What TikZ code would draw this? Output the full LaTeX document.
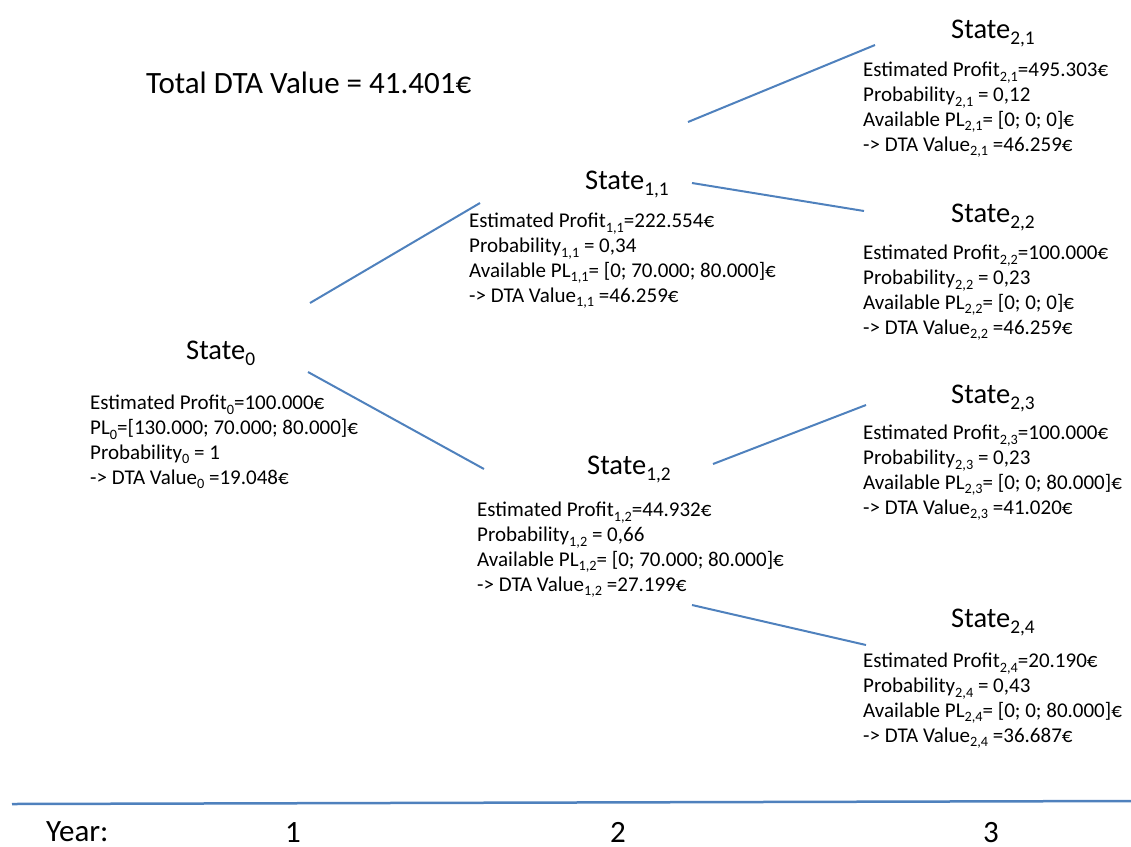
\documentclass[tikz,border=0pt]{standalone}
\usepackage{fontspec}
\setmainfont{Carlito}
\usepackage{tikz}
\definecolor{lineblue}{RGB}{79,129,189}
\tikzset{
  titlelbl/.style={anchor=base west, inner sep=0pt, font=\fontsize{31}{37}\selectfont},
  statelbl/.style={anchor=base west, inner sep=0pt, font=\fontsize{28.5}{34}\selectfont},
  infotxt/.style={anchor=base west, inner sep=0pt, align=left, font=\fontsize{21}{24.8}\selectfont},
  yearlbl/.style={anchor=base west, inner sep=0pt, font=\fontsize{31}{37}\selectfont},
  branch/.style={draw=lineblue, line width=2pt},
}
\newcommand{\sbs}[1]{\raisebox{-0.22em}{\scalebox{0.68}{#1}}}

\begin{document}
\begin{tikzpicture}[x=1pt,y=1pt,yscale=-1,xscale=1]
\useasboundingbox (0,0) rectangle (1131,846);

% Title
\node [titlelbl] (total) at (146,93) {Total DTA Value = 41.401€};

% State nodes
\node [statelbl] (s0) at (186,359) {State\sbs{0}};
\node [statelbl] (s11) at (585,189) {State\sbs{1,1}};
\node [statelbl] (s12) at (587,474) {State\sbs{1,2}};
\node [statelbl] (s21) at (951,38) {State\sbs{2,1}};
\node [statelbl] (s22) at (951,222) {State\sbs{2,2}};
\node [statelbl] (s23) at (951,403) {State\sbs{2,3}};
\node [statelbl] (s24) at (951,627) {State\sbs{2,4}};

% Text Node (base = last line)
\node [infotxt] (t0) at (90,484) {Estimated Profit\sbs{0}=100.000€\\PL\sbs{0}=[130.000; 70.000; 80.000]€\\Probability\sbs{0} = 1\\-> DTA Value\sbs{0} =19.048€};
% Text Node
\node [infotxt] (t11) at (469,302) {Estimated Profit\sbs{1,1}=222.554€\\Probability\sbs{1,1} = 0,34\\Available PL\sbs{1,1}= [0; 70.000; 80.000]€\\-> DTA Value\sbs{1,1} =46.259€};
% Text Node
\node [infotxt] (t12) at (477,591) {Estimated Profit\sbs{1,2}=44.932€\\Probability\sbs{1,2} = 0,66\\Available PL\sbs{1,2}= [0; 70.000; 80.000]€\\-> DTA Value\sbs{1,2} =27.199€};
% Text Node
\node [infotxt] (t21) at (863,151) {Estimated Profit\sbs{2,1}=495.303€\\Probability\sbs{2,1} = 0,12\\Available PL\sbs{2,1}= [0; 0; 0]€\\-> DTA Value\sbs{2,1} =46.259€};
% Text Node
\node [infotxt] (t22) at (863,334) {Estimated Profit\sbs{2,2}=100.000€\\Probability\sbs{2,2} = 0,23\\Available PL\sbs{2,2}= [0; 0; 0]€\\-> DTA Value\sbs{2,2} =46.259€};
% Text Node
\node [infotxt] (t23) at (863,514) {Estimated Profit\sbs{2,3}=100.000€\\Probability\sbs{2,3} = 0,23\\Available PL\sbs{2,3}= [0; 0; 80.000]€\\-> DTA Value\sbs{2,3} =41.020€};
% Text Node
\node [infotxt] (t24) at (863,742) {Estimated Profit\sbs{2,4}=20.190€\\Probability\sbs{2,4} = 0,43\\Available PL\sbs{2,4}= [0; 0; 80.000]€\\-> DTA Value\sbs{2,4} =36.687€};

% branch ends
\coordinate (b0u) at (310,303);
\coordinate (b11in) at (480,203);
\coordinate (b0d) at (308,372);
\coordinate (b12in) at (484,469);
\coordinate (b11u) at (688,122);
\coordinate (b21in) at (875,45);
\coordinate (b11d) at (692,183);
\coordinate (b22in) at (864,211);
\coordinate (b12u) at (713,464);
\coordinate (b23in) at (866,405);
\coordinate (b12d) at (692,605);
\coordinate (b24in) at (866,645);

%Straight Lines
\draw [branch] (b0u) -- (b11in);
\draw [branch] (b0d) -- (b12in);
\draw [branch] (b11u) -- (b21in);
\draw [branch] (b11d) -- (b22in);
\draw [branch] (b12u) -- (b23in);
\draw [branch] (b12d) -- (b24in);

% Year axis
\coordinate (axl) at (12,804);
\coordinate (axr) at (1131,801);
\draw [draw=lineblue, line width=2.5pt] (axl) -- (axr);
\node [yearlbl] (year) at (46,841) {Year:};
\node [yearlbl] (y1) at (285,842) {1};
\node [yearlbl] (y2) at (610,842) {2};
\node [yearlbl] (y3) at (983,842) {3};

\end{tikzpicture}
\end{document}
